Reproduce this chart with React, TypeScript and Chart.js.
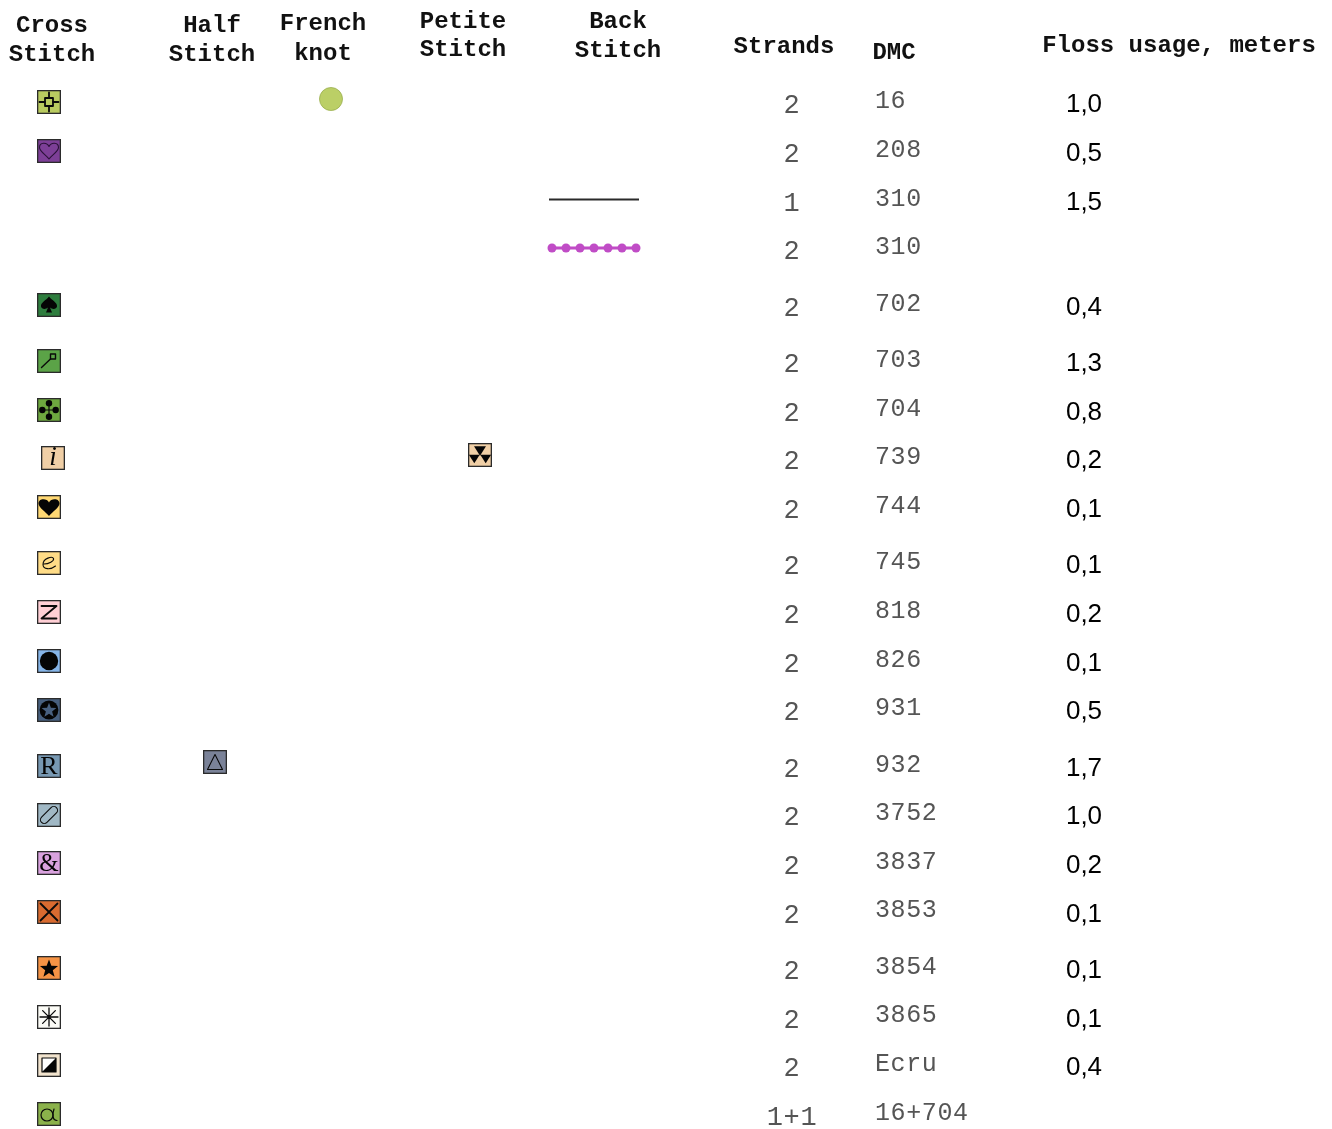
import React, { useEffect, useRef } from "react";
import { Chart, registerables } from "chart.js";

Chart.register(...registerables);

// ---- data ----
const dmcCodes = ["16","208","310","310","702","703","704","739","744","745","818","826","931","932","3752","3837","3853","3854","3865","Ecru","16+704"];
const strands = ["2","2","1","2","2","2","2","2","2","2","2","2","2","2","2","2","2","2","2","2","1+1"];
const flossUsage = ["1,0","0,5","1,5","","0,4","1,3","0,8","0,2","0,1","0,1","0,2","0,1","0,5","1,7","1,0","0,2","0,1","0,1","0,1","0,4",""];
const crossSymbols = ["target","heartOutline","","","spade","wand","club","i","heart","e","Z","dot","starDot","R","clip","amp","cross","star","asterisk","half","a"];
const crossColors = ["#B9CB60","#7D3F97","","","#2E7D3E","#5BA347","#6EA83F","#F0CFA6","#FFD873","#FFDC87","#FFCFD5","#86B5E8","#48607F","#7798B2","#A0B8C5","#D9A2DE","#D96B30","#F59345","#FBFBF6","#F1E3CD","#8BB24B"];
const halfStitch = { row: 13, symbol: "triangle", color: "#7A8298" };
const frenchKnot = { row: 0, color: "#BBCF66" };
const petiteStitch = { row: 7, symbol: "triangles", color: "#F0CFA6" };
const backStitchPlain = { row: 2, color: "#2A2A2A" };
const backStitchBeaded = { row: 3, color: "#C04CC6", stops: [0, 1, 2, 3, 4, 5, 6] };
const headers = [
  { lines: ["Cross", "Stitch"], x: 52, y: [25.5, 54.5] },
  { lines: ["Half", "Stitch"], x: 212, y: [25.5, 54.5] },
  { lines: ["French", "knot"], x: 323, y: [23.5, 53.5] },
  { lines: ["Petite", "Stitch"], x: 463, y: [21.5, 49.5] },
  { lines: ["Back", "Stitch"], x: 618, y: [21.5, 50.5] },
  { lines: ["Strands"], x: 784, y: [46.5] },
  { lines: ["DMC"], x: 894, y: [52.5] },
  { lines: ["Floss usage, meters"], x: 1179, y: [45.5] },
];

// ---- layout ----
const W = 1332, H = 1129;
const rowY = [102,151,200,248,305,361,410,458,507,563,612,661,710,766,815,863,912,968,1017,1065,1114];
const strandsRowY = [106,155,204,252,309,365,414,462,511,567,616,665,713,770,818,867,916,972,1021,1069,1118];
const dmcRowY = [101.5,150.5,199.5,247.5,304.5,360.5,409.5,457.5,506.5,562.5,611.5,660.5,708.5,765.5,813.5,862.5,910.5,967.5,1015.5,1064.5,1113.5];
const flossRowY = [104.5,153.5,202.5,250.5,307.5,363.5,412.5,460.5,509.5,565.5,614.5,663.5,711.5,768.5,816.5,865.5,914.5,970.5,1019.5,1067.5,1115.5];
const colX = { cross: 49, half: 215, french: 331, petite: 480, back: 594, strands: 792, dmc: 875, floss: 1084 };
const crossShift: Record<number, number> = { 7: 4 };
const stitchPitch = 14;

function makeSymbol(kind: string, fill: string): HTMLCanvasElement {
  const S = 24;
  const cv = document.createElement("canvas");
  cv.width = S; cv.height = S;
  const c = cv.getContext("2d")!;
  c.fillStyle = fill;
  c.fillRect(0, 0, 24, 24);
  c.strokeStyle = "#2b2b2b";
  c.lineWidth = 1.3;
  c.strokeRect(0.65, 0.65, 22.7, 22.7);
  c.translate(-0.5, -0.5);
  c.fillStyle = "#050505";
  c.strokeStyle = "#0a0a0a";
  c.lineWidth = 1.6;
  c.lineJoin = "round";
  c.lineCap = "round";
  const m = 12.5;
  const text = (t: string, font: string, dy = 0, dx = 0) => {
    c.font = font; c.textAlign = "center"; c.textBaseline = "middle";
    c.fillText(t, m + dx, m + dy);
  };
  const heartPath = (w: number, top: number, bot: number) => {
    c.beginPath();
    c.moveTo(m, bot);
    c.bezierCurveTo(m - w * 0.3, bot - 4, m - w, top + 8, m - w, top + 4);
    c.bezierCurveTo(m - w, top - 1.5, m - 2, top - 1.5, m, top + 3);
    c.bezierCurveTo(m + 2, top - 1.5, m + w, top - 1.5, m + w, top + 4);
    c.bezierCurveTo(m + w, top + 8, m + w * 0.3, bot - 4, m, bot);
    c.closePath();
  };
  const star = (r: number, cy: number, color: string) => {
    c.fillStyle = color; c.beginPath();
    for (let i = 0; i < 10; i++) {
      const a = -Math.PI / 2 + (i * Math.PI) / 5;
      const rr = i % 2 ? r * 0.42 : r;
      c.lineTo(m + rr * Math.cos(a), cy + rr * Math.sin(a));
    }
    c.closePath(); c.fill();
  };
  const tri = (x: number, y: number, s: number) => {
    c.beginPath(); c.moveTo(x - s, y - s * 0.8); c.lineTo(x + s, y - s * 0.8); c.lineTo(x, y + s * 0.8); c.closePath(); c.fill();
  };
  switch (kind) {
    case "target":
      c.lineWidth = 1.8;
      c.strokeRect(8.5, 8.5, 8, 8);
      c.beginPath();
      c.moveTo(m, 3); c.lineTo(m, 8.5); c.moveTo(m, 16.5); c.lineTo(m, 22);
      c.moveTo(3, m); c.lineTo(8.5, m); c.moveTo(16.5, m); c.lineTo(22, m);
      c.stroke();
      break;
    case "heartOutline":
      c.strokeStyle = "#2a1238"; c.lineWidth = 1.1;
      heartPath(9.5, 5, 20.5); c.stroke();
      break;
    case "heart":
      heartPath(10.5, 5, 21.5); c.fill();
      break;
    case "spade":
      c.beginPath();
      c.moveTo(m, 4);
      c.bezierCurveTo(m + 3, 8, m + 8.5, 10, m + 8, 14);
      c.bezierCurveTo(m + 7.5, 17, m + 3, 17, m + 1, 15);
      c.lineTo(m + 3, 20); c.lineTo(m - 3, 20); c.lineTo(m - 1, 15);
      c.bezierCurveTo(m - 3, 17, m - 7.5, 17, m - 8, 14);
      c.bezierCurveTo(m - 8.5, 10, m - 3, 8, m, 4);
      c.closePath(); c.fill();
      break;
    case "wand":
      c.lineWidth = 1.4;
      c.strokeRect(14, 5.5, 5, 5);
      c.beginPath(); c.moveTo(14, 10.5); c.lineTo(5, 19); c.stroke();
      break;
    case "club":
      c.lineWidth = 1.2;
      c.beginPath(); c.moveTo(m, 4); c.lineTo(m, 21); c.moveTo(4, m); c.lineTo(21, m); c.stroke();
      for (const [x, y] of [[m, 5.8], [m, 19.2], [5.8, m], [19.2, m]]) {
        c.beginPath(); c.arc(x, y, 3.2, 0, 7); c.fill();
      }
      break;
    case "i":
      text("i", "italic 27px 'Liberation Serif'", 0);
      break;
    case "e":
      c.lineWidth = 1.1;
      c.beginPath();
      c.moveTo(7.5, 13.5);
      c.bezierCurveTo(12, 13.5, 18, 10.5, 17, 8);
      c.bezierCurveTo(16, 5.5, 6.5, 7.5, 6.5, 14);
      c.bezierCurveTo(6.5, 19, 14, 19.5, 19, 15.5);
      c.stroke();
      break;
    case "a":
      c.lineWidth = 1.2;
      c.beginPath();
      c.ellipse(10.5, 13.5, 6, 6, 0, 0, 7);
      c.stroke();
      c.beginPath();
      c.moveTo(17.5, 7.5);
      c.bezierCurveTo(16, 12, 15.5, 19, 20.5, 19);
      c.stroke();
      break;
    case "Z":
      c.lineWidth = 1.8;
      c.beginPath(); c.moveTo(5, 6.5); c.lineTo(20, 6.5); c.lineTo(5, 19); c.lineTo(20, 19); c.stroke();
      break;
    case "dot":
      c.beginPath(); c.arc(m, m, 9.2, 0, 7); c.fill();
      break;
    case "starDot":
      c.beginPath(); c.arc(m, m, 9.4, 0, 7); c.fill();
      star(7.8, 13, "#48607F");
      break;
    case "R":
      text("R", "26px 'Liberation Serif'", 1);
      break;
    case "clip":
      c.lineWidth = 1.1;
      c.save(); c.translate(m, m); c.rotate(-Math.PI / 4);
      c.beginPath(); c.roundRect(-10.5, -3.8, 21, 7.6, 3.8); c.stroke();
      c.restore();
      break;
    case "amp":
      text("&", "25px 'Liberation Serif'", 1);
      break;
    case "cross":
      c.lineWidth = 1.8;
      c.beginPath(); c.moveTo(4, 4); c.lineTo(21, 21); c.moveTo(21, 4); c.lineTo(4, 21); c.stroke();
      break;
    case "star":
      star(9.5, 13.5, "#050505");
      break;
    case "asterisk":
      c.lineWidth = 1.3;
      c.beginPath();
      for (let i = 0; i < 4; i++) {
        const a = (i * Math.PI) / 4;
        c.moveTo(m - 9 * Math.cos(a), m - 9 * Math.sin(a));
        c.lineTo(m + 9 * Math.cos(a), m + 9 * Math.sin(a));
      }
      c.stroke();
      break;
    case "half":
      c.fillStyle = "#fff"; c.fillRect(5.5, 5.5, 14, 14);
      c.fillStyle = "#050505";
      c.beginPath(); c.moveTo(19.5, 5.5); c.lineTo(19.5, 19.5); c.lineTo(5.5, 19.5); c.closePath(); c.fill();
      c.lineWidth = 1.2; c.strokeRect(5.5, 5.5, 14, 14);
      break;
    case "triangle":
      c.lineWidth = 1.1;
      c.beginPath(); c.moveTo(m, 5); c.lineTo(20, 20); c.lineTo(5, 20); c.closePath(); c.stroke();
      break;
    case "triangles":
      tri(m, 8.5, 6); tri(6.8, 16.5, 5.4); tri(18.2, 16.5, 5.4);
      break;
  }
  return cv;
}

const tablePlugin = {
  id: "stitchTable",
  afterDatasetsDraw(chart: any) {
    const { ctx, scales } = chart;
    const px = (v: number) => scales.x.getPixelForValue(v);
    const py = (v: number) => scales.y.getPixelForValue(v);
    ctx.save();
    ctx.textBaseline = "middle";
    ctx.fillStyle = "#111";
    ctx.textAlign = "center";
    ctx.font = "bold 24px 'Liberation Mono'";
    headers.forEach((h) => h.lines.forEach((t, i) => ctx.fillText(t, px(h.x), py(h.y[i]))));
    ctx.letterSpacing = "0.6px";
    strands.forEach((t, i) => {
      ctx.fillStyle = "#555";
      ctx.font = "27px 'Liberation Mono'";
      ctx.textAlign = "center";
      ctx.fillText(t, px(colX.strands), py(strandsRowY[i]));
    });
    dmcCodes.forEach((t, i) => {
      ctx.fillStyle = "#555";
      ctx.font = "25px 'Liberation Mono'";
      ctx.textAlign = "left";
      ctx.fillText(t, px(colX.dmc), py(dmcRowY[i]));
    });
    ctx.letterSpacing = "0px";
    flossUsage.forEach((t, i) => {
      ctx.fillStyle = "#000";
      ctx.font = "26px 'Liberation Sans'";
      ctx.textAlign = "center";
      ctx.fillText(t, px(colX.floss), py(flossRowY[i]));
    });
    ctx.restore();
  },
};

export default function App() {
  const ref = useRef<HTMLCanvasElement>(null);
  useEffect(() => {
    const crossPoints: any[] = [];
    const crossStyles: any[] = [];
    crossSymbols.forEach((s, i) => {
      if (!s) return;
      crossPoints.push({ x: colX.cross + (crossShift[i] || 0), y: rowY[i] });
      crossStyles.push(makeSymbol(s, crossColors[i]));
    });
    const chart = new Chart(ref.current!, {
      type: "scatter",
      data: {
        datasets: [
          {
            label: "Cross Stitch",
            data: crossPoints,
            pointStyle: crossStyles,
            pointRadius: 12,
          },
          {
            label: "Half Stitch",
            data: [{ x: colX.half, y: rowY[halfStitch.row] - 4 }],
            pointStyle: [makeSymbol(halfStitch.symbol, halfStitch.color)],
            pointRadius: 12,
          },
          {
            label: "French knot",
            data: [{ x: colX.french, y: rowY[frenchKnot.row] - 3 }],
            pointStyle: "circle",
            pointRadius: 11.5,
            backgroundColor: frenchKnot.color,
            borderColor: "#9AAE50",
            borderWidth: 0.8,
          },
          {
            label: "Petite Stitch",
            data: [{ x: colX.petite, y: rowY[petiteStitch.row] - 3 }],
            pointStyle: [makeSymbol(petiteStitch.symbol, petiteStitch.color)],
            pointRadius: 12,
          },
          {
            label: "Back Stitch 1",
            showLine: true,
            data: [
              { x: colX.back - 45, y: rowY[backStitchPlain.row] - 0.5 },
              { x: colX.back + 45, y: rowY[backStitchPlain.row] - 0.5 },
            ],
            borderColor: backStitchPlain.color,
            borderWidth: 2,
            pointRadius: 0,
          },
          {
            label: "Back Stitch 2",
            showLine: true,
            data: backStitchBeaded.stops.map((s) => ({
              x: colX.back + (s - 3) * stitchPitch,
              y: rowY[backStitchBeaded.row],
            })),
            borderColor: backStitchBeaded.color,
            backgroundColor: backStitchBeaded.color,
            borderWidth: 3,
            pointRadius: 4.5,
            pointBorderWidth: 0,
          },
        ],
      },
      options: {
        responsive: false,
        animation: false,
        layout: { padding: 0, autoPadding: false },
        plugins: { legend: { display: false }, tooltip: { enabled: false }, title: { display: false } },
        scales: {
          x: { type: "linear", min: 0, max: W, display: false },
          y: { type: "linear", min: 0, max: H, reverse: true, display: false },
        },
      },
      plugins: [tablePlugin],
    } as any);
    return () => chart.destroy();
  }, []);
  return (
    <canvas
      ref={ref}
      width={W}
      height={H}
      style={{ position: "fixed", left: 0, top: 0, width: W, height: H, background: "#fff" }}
    />
  );
}
